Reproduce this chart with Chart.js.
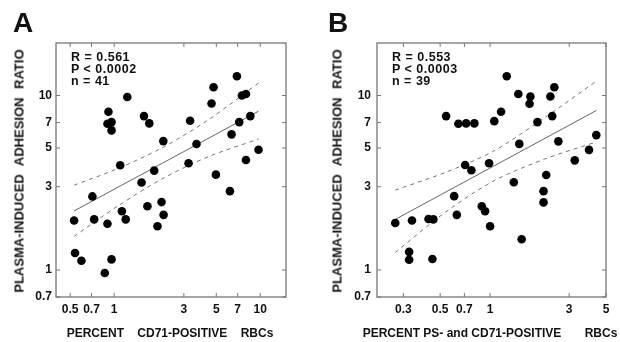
<!DOCTYPE html>
<html>
<head>
<meta charset="utf-8">
<script src="https://cdn.jsdelivr.net/npm/chart.js@4"></script>
<style>
body { margin: 0; background: #fff; width: 620px; height: 342px; overflow: hidden; position: relative;
       font-family: "Liberation Sans", Arial, sans-serif; font-weight: bold; color: #111; }
canvas { position: absolute; top: 0; }
#chartA { left: 0; }
#chartB { left: 310px; }
.lbl { position: absolute; white-space: pre; }
.panel { font-size: 28px; line-height: 28px; }
.stats { font-size: 12.5px; line-height: 11.8px; letter-spacing: 0.5px; }
.xt { font-size: 12px; line-height: 12px; transform: translate(-50%, -50%); }
.yt { font-size: 13px; line-height: 13px; transform: translate(-50%, -50%) rotate(-90deg); }
</style>
</head>
<body>
<canvas id="chartA" width="310" height="342"></canvas>
<canvas id="chartB" width="310" height="342"></canvas>

<div class="lbl panel" style="left:13px; top:9px;">A</div>
<div class="lbl panel" style="left:328px; top:9px;">B</div>

<div class="lbl stats" style="left:71px; top:52px;">R = 0.561
P &lt; 0.0002
n = 41</div>
<div class="lbl stats" style="left:392px; top:52px;">R = 0.553
P &lt; 0.0003
n = 39</div>

<div class="lbl xt" style="left:170px; top:333px; word-spacing:10px;">PERCENT CD71-POSITIVE RBCs</div>
<div class="lbl xt" style="left:490px; top:333px;">PERCENT PS- and CD71-POSITIVE       RBCs</div>
<div class="lbl yt" style="left:19px; top:171px; word-spacing:5px;">PLASMA-INDUCED ADHESION RATIO</div>
<div class="lbl yt" style="left:337px; top:171px; word-spacing:5px;">PLASMA-INDUCED ADHESION RATIO</div>

<script>
// --- Axis ticks ---
const yTicks = [0.7, 1, 3, 5, 7, 10];
const xTicksA = [0.5, 0.7, 1, 3, 5, 7, 10];
const xTicksB = [0.3, 0.5, 0.7, 1, 3, 5];

// --- Panel A: percent CD71-positive RBCs vs adhesion ratio ---
const cd71Pct = [1.23, 0.914, 0.90, 0.96, 0.96, 1.60, 1.74, 2.17, 1.10, 6.92,
                 4.79, 4.64, 7.49, 7.98, 8.55, 7.18, 3.31, 6.36, 3.66, 9.73,
                 7.98, 3.23, 1.88, 1.54, 0.71, 0.532, 0.73, 0.90, 1.13, 1.20,
                 1.69, 2.11, 2.18, 1.98, 0.54, 0.597, 0.96, 0.863, 4.97, 6.2];
const ratioA = [9.8, 8.07, 6.89, 7.04, 6.31, 7.62, 6.92, 5.48, 3.98, 12.9,
                11.15, 9.0, 10.0, 10.2, 7.62, 7.04, 7.17, 5.99, 5.27, 4.89,
                4.27, 4.09, 3.71, 3.17, 2.64, 1.92, 1.95, 1.84, 2.17, 1.95,
                2.32, 2.45, 2.07, 1.78, 1.25, 1.13, 1.15, 0.96, 3.52, 2.83];
const fitXA = [0.532, 9.73];
const fitYA = [2.18, 8.13];
const bandXA = [0.532, 1.08, 2.2, 4.47, 9.73];
const upperA = [3.06, 3.84, 5.09, 7.31, 11.8];
const lowerA = [1.56, 2.35, 3.38, 4.48, 5.63];

// --- Panel B: percent PS- and CD71-positive RBCs vs adhesion ratio ---
const psCd71Pct = [0.543, 0.644, 0.717, 0.804, 1.06, 0.707, 0.771, 0.986, 1.165, 1.26,
                   1.48, 1.75, 1.73, 2.31, 2.44, 2.37, 1.93, 1.50, 2.58, 3.24,
                   3.95, 4.37, 0.607, 0.268, 0.338, 0.425, 0.455, 0.630, 0.891, 0.933,
                   1.0, 0.325, 0.325, 0.449, 2.18, 1.39, 2.10, 2.10, 1.55];
const ratioB = [7.62, 6.89, 6.92, 6.92, 7.13, 4.0, 3.73, 4.09, 8.07, 12.9,
                10.2, 9.87, 8.98, 9.87, 11.15, 7.62, 7.04, 5.28, 5.46, 4.25,
                4.88, 5.93, 2.65, 1.86, 1.92, 1.96, 1.95, 2.07, 2.32, 2.17,
                1.78, 1.27, 1.145, 1.155, 3.50, 3.18, 2.83, 2.44, 1.50];
const fitXB = [0.268, 4.38];
const fitYB = [1.95, 8.21];
const bandXB = [0.268, 0.536, 1.04, 2.14, 4.38];
const upperB = [2.87, 3.62, 4.78, 7.48, 12.1];
const lowerB = [1.26, 2.14, 3.22, 4.33, 5.42];

const zip = (xs, ys) => xs.map((x, i) => ({ x, y: ys[i] }));
const tickFont = { family: '"Liberation Sans", Arial, sans-serif', size: 12, weight: 'bold' };

// box frame + short inward ticks on all four sides
const frameTicks = {
    id: 'frameTicks',
    beforeDatasetsDraw(chart) {
        const { ctx, chartArea: a, scales: { x, y } } = chart;
        ctx.save();
        ctx.strokeStyle = '#777';
        ctx.lineWidth = 1.3;
        ctx.strokeRect(a.left, a.top, a.width, a.height);
        ctx.lineWidth = 1;
        ctx.beginPath();
        x.ticks.forEach(t => {
            const px = x.getPixelForValue(t.value);
            ctx.moveTo(px, a.bottom); ctx.lineTo(px, a.bottom - 4);
            ctx.moveTo(px, a.top); ctx.lineTo(px, a.top + 4);
        });
        y.ticks.forEach(t => {
            const py = y.getPixelForValue(t.value);
            ctx.moveTo(a.left, py); ctx.lineTo(a.left + 4, py);
            ctx.moveTo(a.right, py); ctx.lineTo(a.right - 4, py);
        });
        ctx.stroke();
        ctx.restore();
    }
};

function makeChart(id, cfg) {
    return new Chart(document.getElementById(id), {
        type: 'scatter',
        data: {
            datasets: [
                { data: zip(cfg.px, cfg.py), backgroundColor: '#000', borderWidth: 0, pointRadius: 4.3, pointHoverRadius: 4.3 },
                { data: zip(cfg.fitX, cfg.fitY), showLine: true, borderColor: '#666', borderWidth: 1, pointRadius: 0 },
                { data: zip(cfg.bandX, cfg.upper), showLine: true, borderColor: '#777', borderWidth: 1, borderDash: [4, 4], pointRadius: 0, tension: 0.3 },
                { data: zip(cfg.bandX, cfg.lower), showLine: true, borderColor: '#777', borderWidth: 1, borderDash: [4, 4], pointRadius: 0, tension: 0.3 }
            ]
        },
        options: {
            responsive: false,
            animation: false,
            events: [],
            layout: { padding: { top: 43, right: cfg.padRight, left: 0, bottom: 0 } },
            plugins: { legend: { display: false }, tooltip: { enabled: false } },
            scales: {
                x: {
                    type: 'logarithmic', min: cfg.xMin, max: cfg.xMax,
                    afterBuildTicks: s => { s.ticks = cfg.xTicks.map(v => ({ value: v })); },
                    afterFit: s => { s.height = 45; },
                    grid: { display: false, drawTicks: false },
                    border: { display: false },
                    ticks: { autoSkip: false, maxRotation: 0, padding: 5, color: '#111', font: tickFont, callback: v => String(v) }
                },
                y: {
                    type: 'logarithmic', min: 0.7, max: 20,
                    afterBuildTicks: s => { s.ticks = yTicks.map(v => ({ value: v })); },
                    afterFit: s => { s.width = cfg.yWidth; },
                    grid: { display: false, drawTicks: false },
                    border: { display: false },
                    ticks: { autoSkip: false, padding: cfg.yPad, color: '#111', font: tickFont, callback: v => String(v) }
                }
            }
        },
        plugins: [frameTicks]
    });
}

makeChart('chartA', {
    px: cd71Pct, py: ratioA, fitX: fitXA, fitY: fitYA,
    bandX: bandXA, upper: upperA, lower: lowerA,
    xTicks: xTicksA, xMin: 0.4, xMax: 15, yWidth: 56, yPad: 4, padRight: 24
});
makeChart('chartB', {
    px: psCd71Pct, py: ratioB, fitX: fitXB, fitY: fitYB,
    bandX: bandXB, upper: upperB, lower: lowerB,
    xTicks: xTicksB, xMin: 0.208, xMax: 5.0, yWidth: 67, yPad: 6, padRight: 14
});
</script>
</body>
</html>
